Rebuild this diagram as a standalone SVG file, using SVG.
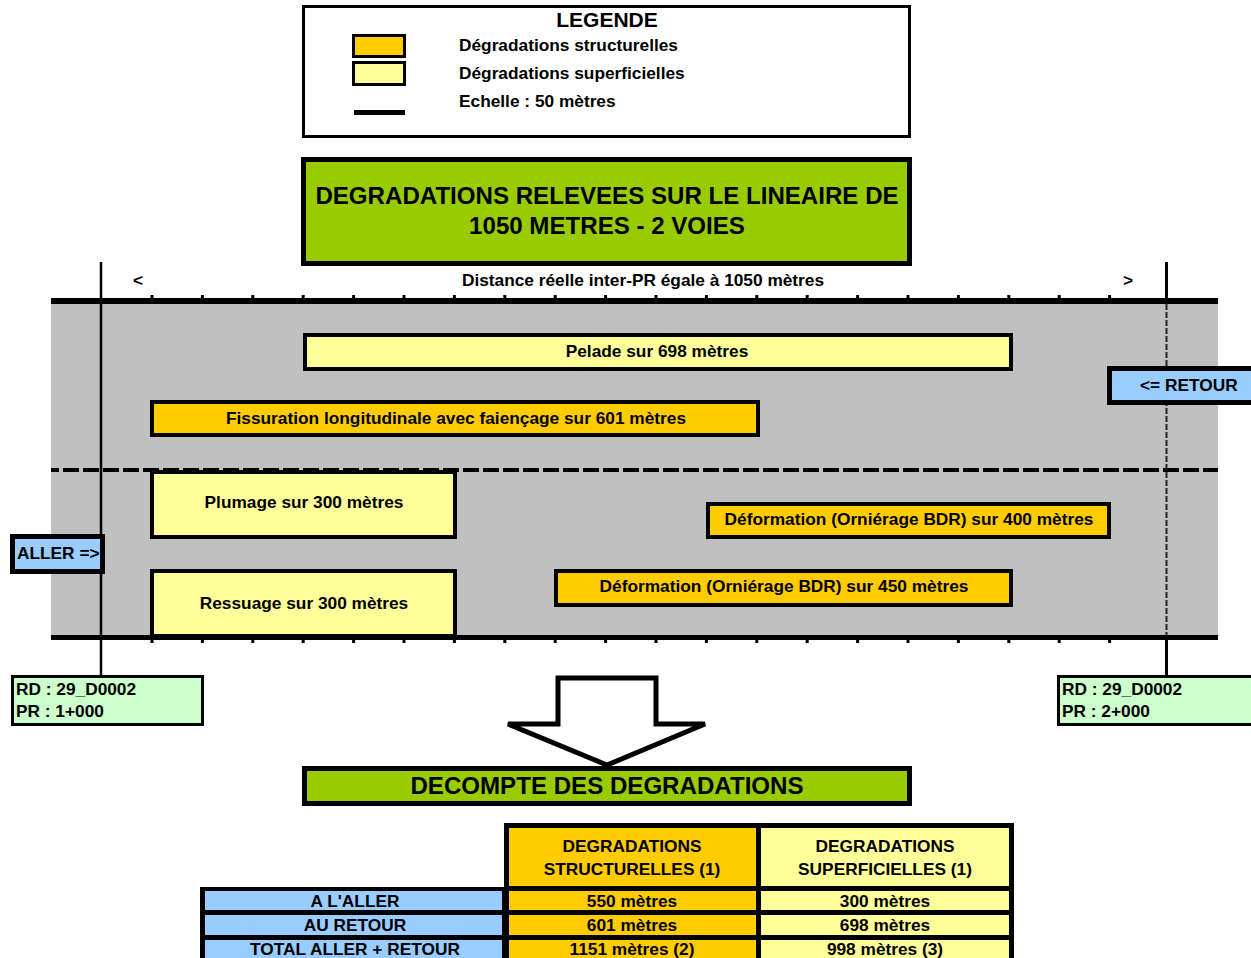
<svg xmlns="http://www.w3.org/2000/svg" width="1251" height="958" viewBox="0 0 1251 958">
<defs>
<style>
text{font-family:"Liberation Sans",Arial,sans-serif;font-weight:bold;fill:#000;}
.t17{font-size:17.3px;}
.c{text-anchor:middle;}
.box{stroke:#000;stroke-width:4;}
.struct{fill:#FFCC00;}
.super{fill:#FFFF99;}
.blue{fill:#99CCFF;}
.green{fill:#99CC00;}
.mint{fill:#CCFFCC;}
.tick{stroke:#000;stroke-width:3;}
</style>
</defs>
<rect x="0" y="0" width="1251" height="958" fill="#fff"/>

<g id="legend">
<rect x="303.5" y="6.5" width="606" height="130" fill="#fff" stroke="#000" stroke-width="3"/>
<text x="607" y="27" class="c" font-size="21">LEGENDE</text>
<rect x="353.5" y="35.5" width="51" height="21" class="struct" stroke="#000" stroke-width="3"/>
<rect x="353.5" y="62.5" width="51" height="22" class="super" stroke="#000" stroke-width="3"/>
<rect x="354" y="110" width="51" height="5" fill="#000"/>
<text x="459" y="51" class="t17">Dégradations structurelles</text>
<text x="459" y="79" class="t17">Dégradations superficielles</text>
<text x="459" y="107" class="t17">Echelle : 50 mètres</text>
</g>

<g id="title">
<rect x="303.5" y="159.5" width="606" height="104" class="green" stroke="#000" stroke-width="5"/>
<text x="607" y="204" class="c" font-size="24.1">DEGRADATIONS RELEVEES SUR LE LINEAIRE DE</text>
<text x="607" y="234" class="c" font-size="24.1">1050 METRES - 2 VOIES</text>
</g>

<g id="road">
<rect x="51" y="301" width="1167" height="336" fill="#C0C0C0"/>
<rect x="51" y="298" width="1167" height="6" fill="#000"/>
<rect x="51" y="635" width="1167" height="5" fill="#000"/>
<line x1="51" y1="470" x2="1218" y2="470" stroke="#000" stroke-width="4" stroke-dasharray="16 4" stroke-dashoffset="8"/>
<g id="ticks-top" class="tick">
<line x1="152" y1="295" x2="152" y2="299"/><line x1="202.4" y1="295" x2="202.4" y2="299"/><line x1="252.8" y1="295" x2="252.8" y2="299"/><line x1="303.2" y1="295" x2="303.2" y2="299"/><line x1="353.6" y1="295" x2="353.6" y2="299"/><line x1="404" y1="295" x2="404" y2="299"/><line x1="454.4" y1="295" x2="454.4" y2="299"/><line x1="504.8" y1="295" x2="504.8" y2="299"/><line x1="555.2" y1="295" x2="555.2" y2="299"/><line x1="605.6" y1="295" x2="605.6" y2="299"/><line x1="656" y1="295" x2="656" y2="299"/><line x1="706.4" y1="295" x2="706.4" y2="299"/><line x1="756.8" y1="295" x2="756.8" y2="299"/><line x1="807.2" y1="295" x2="807.2" y2="299"/><line x1="857.6" y1="295" x2="857.6" y2="299"/><line x1="908" y1="295" x2="908" y2="299"/><line x1="958.4" y1="295" x2="958.4" y2="299"/><line x1="1008.8" y1="295" x2="1008.8" y2="299"/><line x1="1059.2" y1="295" x2="1059.2" y2="299"/><line x1="1109.6" y1="295" x2="1109.6" y2="299"/>
</g>
<g id="ticks-bottom" class="tick">
<line x1="152" y1="639" x2="152" y2="643"/><line x1="202.4" y1="639" x2="202.4" y2="643"/><line x1="252.8" y1="639" x2="252.8" y2="643"/><line x1="303.2" y1="639" x2="303.2" y2="643"/><line x1="353.6" y1="639" x2="353.6" y2="643"/><line x1="404" y1="639" x2="404" y2="643"/><line x1="454.4" y1="639" x2="454.4" y2="643"/><line x1="504.8" y1="639" x2="504.8" y2="643"/><line x1="555.2" y1="639" x2="555.2" y2="643"/><line x1="605.6" y1="639" x2="605.6" y2="643"/><line x1="656" y1="639" x2="656" y2="643"/><line x1="706.4" y1="639" x2="706.4" y2="643"/><line x1="756.8" y1="639" x2="756.8" y2="643"/><line x1="807.2" y1="639" x2="807.2" y2="643"/><line x1="857.6" y1="639" x2="857.6" y2="643"/><line x1="908" y1="639" x2="908" y2="643"/><line x1="958.4" y1="639" x2="958.4" y2="643"/><line x1="1008.8" y1="639" x2="1008.8" y2="643"/><line x1="1059.2" y1="639" x2="1059.2" y2="643"/><line x1="1109.6" y1="639" x2="1109.6" y2="643"/>
</g>
<text x="138" y="286" class="t17 c">&lt;</text>
<text x="643" y="286" class="t17 c">Distance réelle inter-PR égale à 1050 mètres</text>
<text x="1128" y="286" class="t17 c">&gt;</text>
</g>

<g id="pr-lines">
<line x1="101" y1="262" x2="101" y2="675" stroke="#000" stroke-width="2.5"/>
<line x1="1166.5" y1="262" x2="1166.5" y2="301" stroke="#000" stroke-width="3"/>
<line x1="1166.5" y1="304" x2="1166.5" y2="635" stroke="#222" stroke-width="2" stroke-dasharray="6 2"/>
<line x1="1166.5" y1="637" x2="1166.5" y2="675" stroke="#000" stroke-width="3"/>
</g>

<g id="pelade">
<rect x="305" y="335" width="706" height="34" class="box super"/>
<text x="657" y="357" class="t17 c">Pelade sur 698 mètres</text>
</g>
<g id="fissuration">
<rect x="152" y="402" width="606" height="33" class="box struct"/>
<text x="456" y="424" class="t17 c">Fissuration longitudinale avec faiençage sur 601 mètres</text>
</g>
<g id="plumage">
<rect x="152" y="472" width="303" height="65" class="box super"/>
<text x="304" y="508" class="t17 c">Plumage sur 300 mètres</text>
</g>
<g id="ressuage">
<rect x="152" y="571" width="303" height="65" class="box super"/>
<text x="304" y="609" class="t17 c">Ressuage sur 300 mètres</text>
</g>
<g id="deformation400">
<rect x="708" y="504" width="401" height="33" class="box struct"/>
<text x="909" y="525" class="t17 c">Déformation (Orniérage BDR) sur 400 mètres</text>
</g>
<g id="deformation450">
<rect x="556" y="571" width="455" height="34" class="box struct"/>
<text x="784" y="592" class="t17 c">Déformation (Orniérage BDR) sur 450 mètres</text>
</g>

<g id="retour">
<rect x="1109.5" y="368.5" width="150" height="34" class="blue" stroke="#000" stroke-width="5"/>
<text x="1140" y="391" class="t17">&lt;= RETOUR</text>
</g>
<g id="aller">
<rect x="12.5" y="536.5" width="90" height="35" class="blue" stroke="#000" stroke-width="5"/>
<text x="17" y="559" class="t17">ALLER =&gt;</text>
</g>

<g id="pr-start">
<rect x="12.5" y="676.5" width="190" height="48" class="mint" stroke="#000" stroke-width="3"/>
<text x="16" y="695" class="t17">RD : 29_D0002</text>
<text x="16" y="717" class="t17">PR : 1+000</text>
</g>
<g id="pr-end">
<rect x="1058.5" y="676.5" width="200" height="48" class="mint" stroke="#000" stroke-width="3"/>
<text x="1062" y="695" class="t17">RD : 29_D0002</text>
<text x="1062" y="717" class="t17">PR : 2+000</text>
</g>

<g id="connectors">
<polygon points="558,678 656,678 656,724 705,724 607,765 508,724 558,724" fill="#fff" stroke="#000" stroke-width="5" stroke-linejoin="miter"/>
</g>

<g id="decompte">
<rect x="304.5" y="768.5" width="605" height="35" class="green" stroke="#000" stroke-width="5"/>
<text x="607" y="794" class="c" font-size="24.1">DECOMPTE DES DEGRADATIONS</text>
</g>

<g id="table">
<rect x="504" y="823" width="510" height="68" fill="#000"/>
<rect x="200" y="887" width="814" height="71" fill="#000"/>
<rect x="509" y="828" width="247" height="58" class="struct"/>
<rect x="761" y="828" width="248" height="58" class="super"/>
<text x="632" y="852" class="t17 c">DEGRADATIONS</text>
<text x="632" y="875" class="t17 c">STRUCTURELLES (1)</text>
<text x="885" y="852" class="t17 c">DEGRADATIONS</text>
<text x="885" y="875" class="t17 c">SUPERFICIELLES (1)</text>

<rect x="205" y="891" width="297" height="19" class="blue"/>
<rect x="509" y="891" width="247" height="19" class="struct"/>
<rect x="761" y="891" width="248" height="19" class="super"/>
<text x="355" y="907" class="t17 c">A L'ALLER</text>
<text x="632" y="907" class="t17 c">550 mètres</text>
<text x="885" y="907" class="t17 c">300 mètres</text>

<rect x="205" y="915" width="297" height="20" class="blue"/>
<rect x="509" y="915" width="247" height="20" class="struct"/>
<rect x="761" y="915" width="248" height="20" class="super"/>
<text x="355" y="931" class="t17 c">AU RETOUR</text>
<text x="632" y="931" class="t17 c">601 mètres</text>
<text x="885" y="931" class="t17 c">698 mètres</text>

<rect x="205" y="940" width="297" height="18" class="blue"/>
<rect x="509" y="940" width="247" height="18" class="struct"/>
<rect x="761" y="940" width="248" height="18" class="super"/>
<text x="355" y="955" class="t17 c">TOTAL ALLER + RETOUR</text>
<text x="632" y="955" class="t17 c">1151 mètres (2)</text>
<text x="885" y="955" class="t17 c">998 mètres (3)</text>
</g>
</svg>
